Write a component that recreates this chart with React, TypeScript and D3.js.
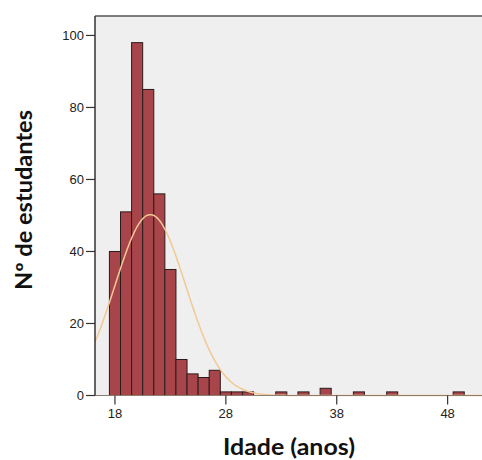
import React from "react";
import * as d3 from "d3";

const ages = [18, 19, 20, 21, 22, 23, 24, 25, 26, 27, 28, 29, 30, 33, 35, 37, 40, 43, 49];
const counts = [40, 51, 98, 85, 56, 35, 10, 6, 5, 7, 1, 1, 1, 1, 1, 2, 1, 1, 1];
const xTicks = [18, 28, 38, 48];
const yTicks = [0, 20, 40, 60, 80, 100];
const curveMean = 21.19;
const curveSD = 3.2;
const xLabel = "Idade (anos)";
const yLabel = "Nº de estudantes";

const W = 482;
const H = 460;
const left = 95;
const right = 482;
const top = 16;
const bottom = 395.5;

export default function App() {
  const x = d3.scaleLinear().domain([16.2, 51.1]).range([left, right]);
  const y = d3.scaleLinear().domain([0, 105.4]).range([bottom, top]);
  const total = d3.sum(counts);
  const dens = (v: number) =>
    (total * Math.exp(-((v - curveMean) ** 2) / (2 * curveSD * curveSD))) /
    (curveSD * Math.sqrt(2 * Math.PI));
  const pts = d3.range(16.2, 51.1, 0.1).map((v) => [v, dens(v)] as [number, number]);
  const line = d3
    .line<[number, number]>()
    .x((d) => x(d[0]))
    .y((d) => y(d[1]))
    .curve(d3.curveBasis);

  return (
    <svg
      width={W}
      height={H}
      style={{ position: "absolute", left: 0, top: 0, background: "#fff" }}
    >
      <rect x={left} y={top} width={right - left} height={bottom - top} fill="#efefef" />
      {ages.map((a, i) => (
        <rect
          key={a}
          x={x(a - 0.5)}
          y={y(counts[i])}
          width={x(a + 0.5) - x(a - 0.5)}
          height={bottom - y(counts[i])}
          fill="#a8454a"
          stroke="#2b1c1c"
          strokeWidth={1}
        />
      ))}
      <path d={line(pts) || ""} fill="none" stroke="#f3c894" strokeWidth={1.5} />
      <line x1={left} x2={right} y1={bottom} y2={bottom} stroke="#8a7d70" strokeWidth={1.2} />
      <line x1={left} x2={right} y1={top} y2={top} stroke="#555" strokeWidth={1.5} />
      <line x1={left} x2={left} y1={top} y2={bottom} stroke="#333" strokeWidth={1.5} />
      {yTicks.map((t) => (
        <g key={t}>
          <line x1={left - 9} x2={left} y1={y(t)} y2={y(t)} stroke="#333" strokeWidth={1.2} />
          <text
            x={left - 11}
            y={y(t)}
            dy="0.35em"
            textAnchor="end"
            fontFamily="Liberation Sans, Arial, sans-serif"
            fontSize={13}
            fill="#222"
          >
            {t}
          </text>
        </g>
      ))}
      {xTicks.map((t) => (
        <g key={t}>
          <line x1={x(t)} x2={x(t)} y1={bottom} y2={bottom + 9} stroke="#333" strokeWidth={1.2} />
          <text
            x={x(t)}
            y={bottom + 18}
            dy="0.35em"
            textAnchor="middle"
            fontFamily="Liberation Sans, Arial, sans-serif"
            fontSize={13}
            fill="#222"
          >
            {t}
          </text>
        </g>
      ))}
      <text
        x={289}
        y={455}
        textAnchor="middle"
        fontFamily="Lato, 'Open Sans', sans-serif"
        fontWeight="bold"
        fontSize={22}
        textLength={132}
        lengthAdjust="spacingAndGlyphs"
        fill="#111"
      >
        {xLabel}
      </text>
      <text
        transform={`translate(32,200) rotate(-90)`}
        textAnchor="middle"
        fontFamily="Lato, 'Open Sans', sans-serif"
        fontWeight="bold"
        fontSize={22}
        textLength={180}
        lengthAdjust="spacingAndGlyphs"
        fill="#111"
      >
        {yLabel}
      </text>
    </svg>
  );
}
